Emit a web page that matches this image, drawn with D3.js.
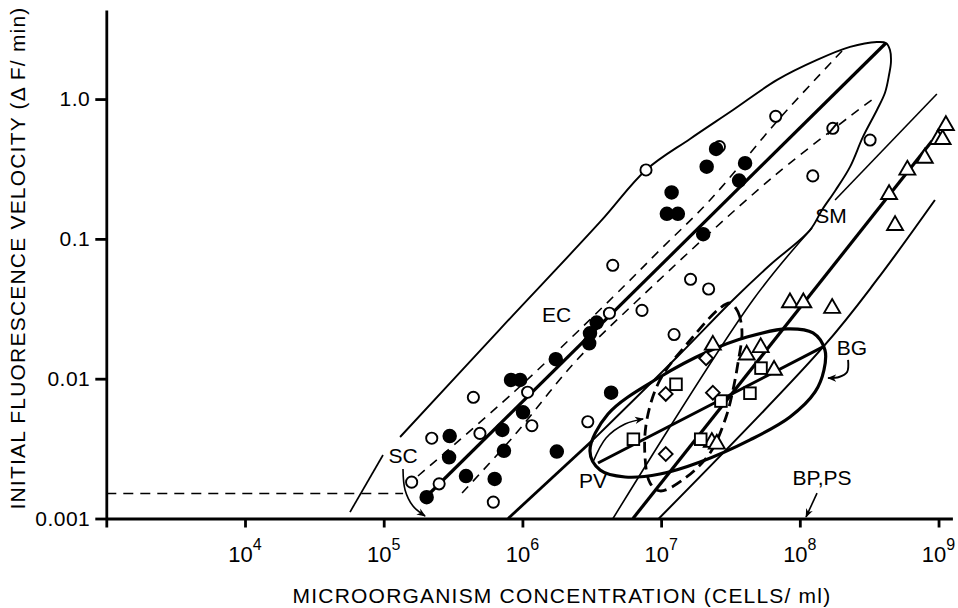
<!DOCTYPE html>
<html><head><meta charset="utf-8">
<script src="https://cdn.jsdelivr.net/npm/d3@7"></script>
<style>
html,body{margin:0;padding:0;background:#fff;}
svg{display:block;font-family:"Liberation Sans",Arial,Helvetica,sans-serif;}
</style></head><body>
<svg id="chart" width="958" height="608"></svg>
<script>
// ---------- axis ticks ----------
const xTicks = [1e3, 1e4, 1e5, 1e6, 1e7, 1e8, 1e9];
const xTickExp = ["", "4", "5", "6", "7", "8", "9"];
const yTicks = [1, 0.1, 0.01, 0.001];
const yTickLabels = ["1.0", "0.1", "0.01", "0.001"];

// ---------- measured points [cells/ml, ΔF/min] ----------
const ecFilled = [[2.04e5,1.42e-3],[2.96e5,2.74e-3],[2.99e5,3.89e-3],[3.92e5,2.01e-3],[6.31e5,1.92e-3],
  [7.16e5,4.30e-3],[7.36e5,3.05e-3],[8.28e5,9.79e-3],[9.62e5,9.79e-3],[1.01e6,5.75e-3],[1.74e6,1.38e-2],
  [1.77e6,3.01e-3],[3.03e6,1.79e-2],[3.07e6,2.11e-2],[3.43e6,2.52e-2],[4.36e6,7.94e-3],[1.10e7,0.151],
  [1.32e7,0.151],[1.19e7,0.215],[2.01e7,0.108],[2.13e7,0.328],[2.49e7,0.440],[3.65e7,0.261],[4.03e7,0.348]];
const ecOpen = [[1.59e5,1.82e-3],[2.22e5,3.75e-3],[2.51e5,1.77e-3],[4.43e5,7.36e-3],[4.94e5,4.06e-3],
  [6.17e5,1.31e-3],[1.09e6,8.0e-3],[1.17e6,4.61e-3],[2.96e6,4.92e-3],[4.24e6,2.94e-2],[4.48e6,6.47e-2],
  [7.28e6,3.08e-2],[7.78e6,0.311],[1.24e7,2.07e-2],[1.63e7,5.14e-2],[2.20e7,4.38e-2],[2.63e7,0.457],
  [6.70e7,0.753],[1.24e8,0.282],[3.21e8,0.509]];
const ecOpenStruck = [[1.73e8,0.618]];
const smTriangles = [[2.36e7,1.74e-2],[4.14e7,1.48e-2],[5.22e7,1.67e-2],[6.52e7,1.15e-2],[2.32e7,3.51e-3],
  [2.52e7,3.41e-3],[8.49e7,3.50e-2],[1.06e8,3.50e-2],[1.71e8,3.19e-2],[4.40e8,0.208],[4.86e8,0.125],
  [5.96e8,0.311],[7.96e8,0.378],[9.89e8,0.515],[1.07e9,0.515],[1.13e9,0.648]];
const bgSquares = [[6.31e6,3.69e-3],[1.28e7,9.12e-3],[1.93e7,3.69e-3],[2.70e7,6.92e-3],[4.37e7,7.87e-3],[5.25e7,1.19e-2]];
const pvDiamonds = [[1.08e7,7.78e-3],[1.08e7,2.89e-3],[2.11e7,1.40e-2],[2.36e7,7.94e-3]];

// ---------- drawn curves, as [log10 cells/ml, log10 ΔF/min] ----------
const ecEnvelopeLow = [[4.757,-2.954],[4.995,-2.546]];
const ecEnvelope = [[5.118,-2.417],[5.839,-1.645],[6.560,-0.879],[6.891,-0.507],[7.208,-0.285],[7.518,-0.078],
  [7.836,0.137],[8.124,0.280],[8.362,0.373],[8.556,0.408],[8.621,0.401],[8.650,0.351],[8.657,0.265],
  [8.643,0.172],[8.614,0.045],[8.556,-0.078],[8.455,-0.271],[8.362,-0.485],[8.254,-0.657],[8.160,-0.793],
  [8.073,-0.937],[7.785,-1.187],[7.518,-1.437],[7.115,-1.845],[6.509,-2.438]];
const ecEnvelopeFoot = [[6.509,-2.438],[5.897,-3.0]];
const ecFit = [[5.319,-2.832],[8.621,0.401]];
const ecBandUpper = [[5.247,-2.696],[5.947,-2.088],[6.653,-1.416],[6.992,-1.079],[7.353,-0.722],[7.857,-0.135],[8.311,0.351]];
const ecBandLower = [[5.565,-2.818],[5.932,-2.417],[6.379,-1.881],[6.848,-1.423],[7.807,-0.557],[8.528,0.001]];
const smBoundUpperA = [[8.988,0.036],[8.254,-0.722]];
const smBoundUpperB = [[8.088,-0.922],[7.662,-1.437],[6.653,-3.0]];
const smBoundLower = [[8.974,-0.722],[8.555,-1.294],[8.170,-1.771],[6.984,-3.0]];
const smFit = [[8.953,-0.300],[6.797,-3.0]];
const bgEllipse = [[6.487,-2.517],[6.617,-2.253],[6.992,-1.988],[7.331,-1.809],[7.619,-1.702],[7.908,-1.644],
  [8.095,-1.673],[8.181,-1.795],[8.174,-1.938],[8.110,-2.095],[7.929,-2.274],[7.641,-2.438],[7.281,-2.596],
  [6.992,-2.682],[6.740,-2.703],[6.560,-2.653]];
const bgFit = [[6.545,-2.603],[8.167,-1.773]];
const pvEllipse = [[7.497,-1.459],[7.554,-1.523],[7.583,-1.666],[7.554,-1.888],[7.518,-2.081],[7.468,-2.274],
  [7.353,-2.531],[7.165,-2.717],[6.992,-2.803],[6.920,-2.746],[6.883,-2.546],[6.897,-2.295],[6.992,-2.009],
  [7.223,-1.709],[7.425,-1.494]];
const scArrow = [[5.139,-2.646],[5.154,-2.796],[5.211,-2.911],[5.298,-2.982]];
const pvArrow = [[6.509,-2.596],[6.603,-2.424],[6.740,-2.324],[6.870,-2.288]];
const bgArrow = [[8.348,-1.866],[8.341,-1.952],[8.283,-1.988],[8.204,-1.995]];
const bpArrow = [[8.124,-2.818],[8.045,-2.989]];
const thresholdLine = [[1e3,1.51e-3],[1.38e5,1.51e-3]];

// ---------- labels [text, log10 x, log10 y] ----------
const groupLabels = [["EC",6.247,-1.544],["SC",5.139,-2.546],["SM",8.225,-0.836],
  ["BG",8.376,-1.780],["PV",6.509,-2.725],["BP,PS",8.160,-2.710]];

// ---------- scales ----------
const svg = d3.select("#chart");
const x = d3.scaleLog().domain([1e3, 10 ** 9.1]).range([106.3, 952.4]);
const y = d3.scaleLog().domain([1e-3, 10 ** 0.637]).range([518.5, 10]);
const E = d => [x(10 ** d[0]), y(10 ** d[1])];

svg.append("defs").append("marker")
  .attr("id", "head").attr("viewBox", "0 0 10 10").attr("refX", 9).attr("refY", 5)
  .attr("markerWidth", 9).attr("markerHeight", 9).attr("markerUnits", "userSpaceOnUse")
  .attr("orient", "auto")
  .append("path").attr("d", "M0,1 L10,5 L0,9 L3,5 Z").attr("fill", "#000");

const gLines = svg.append("g").attr("fill", "none").attr("stroke", "#000");
const smooth = d3.line().curve(d3.curveCatmullRom.alpha(0.5));
const straight = d3.line();
const closed = d3.line().curve(d3.curveCatmullRomClosed.alpha(0.5));

function curve(pts, gen, width, dash) {
  const p = gLines.append("path").attr("d", gen(pts.map(E))).attr("stroke-width", width);
  if (dash) p.attr("stroke-dasharray", dash);
  return p;
}

curve(ecEnvelopeLow, straight, 1.7);
curve(ecEnvelope, smooth, 1.9);
curve(ecEnvelopeFoot, straight, 2.8);
curve(ecFit, straight, 3.2);
curve(ecBandUpper, smooth, 1.6, "9,7");
curve(ecBandLower, smooth, 1.6, "9,7");
curve(smBoundUpperA, straight, 1.6);
curve(smBoundUpperB, smooth, 1.6);
curve(smBoundLower, smooth, 2);
curve(smFit, straight, 3.2);
curve(bgEllipse, closed, 3.2);
curve(bgFit, straight, 3);
curve(pvEllipse, closed, 2.8, "11,6");
curve(scArrow, smooth, 1.6).attr("marker-end", "url(#head)");
curve(pvArrow, smooth, 1.6).attr("marker-end", "url(#head)");
curve(bgArrow, smooth, 1.9).attr("marker-end", "url(#head)");
curve(bpArrow, straight, 1.6).attr("marker-end", "url(#head)");

gLines.append("path")
  .attr("d", straight(thresholdLine.map(d => [x(d[0]), y(d[1])])))
  .attr("stroke-width", 1.6).attr("stroke-dasharray", "10,7");

// ---------- axes ----------
const yAxis = svg.append("g").attr("transform", `translate(${x(1e3)},0)`)
  .call(d3.axisLeft(y).tickValues(yTicks).tickFormat((d, i) => yTickLabels[i]).tickSize(11).tickSizeOuter(0).tickPadding(5));
yAxis.select(".domain").attr("stroke-width", 2.8);
yAxis.selectAll(".tick line").attr("stroke-width", 2.8);
yAxis.selectAll(".tick text").attr("font-size", 21).attr("fill", "#000")
  .attr("font-family", "Liberation Sans, Arial, sans-serif").attr("letter-spacing", 0.5);

const xAxis = svg.append("g").attr("transform", `translate(0,${y(1e-3)})`)
  .call(d3.axisBottom(x).tickValues(xTicks).tickFormat("").tickSize(9).tickSizeOuter(0));
xAxis.select(".domain").attr("stroke-width", 3.2);
xAxis.selectAll(".tick line").attr("stroke-width", 2.8);

const xl = svg.append("g").attr("font-size", 22).attr("text-anchor", "middle");
xTicks.forEach((t, i) => {
  if (!xTickExp[i]) return;
  const tx = xl.append("text").attr("x", x(t)).attr("y", 562);
  tx.append("tspan").text("10");
  tx.append("tspan").attr("dy", -12).attr("font-size", 16).text(xTickExp[i]);
});

svg.append("text").attr("x", 562).attr("y", 603).attr("text-anchor", "middle")
  .attr("font-size", 21).attr("letter-spacing", 1.2).text("MICROORGANISM CONCENTRATION (CELLS/ ml)");
svg.append("text").attr("transform", "translate(25,258) rotate(-90)").attr("text-anchor", "middle")
  .attr("font-size", 21).attr("letter-spacing", 1.2).text("INITIAL FLUORESCENCE VELOCITY (\u0394 F/ min)");

// ---------- group labels ----------
svg.append("g").attr("font-size", 21).attr("text-anchor", "middle").attr("dominant-baseline", "central")
  .selectAll("text").data(groupLabels).join("text")
  .attr("x", d => x(10 ** d[1])).attr("y", d => y(10 ** d[2])).text(d => d[0]);

// ---------- markers ----------
const gPts = svg.append("g").attr("stroke", "#000").attr("stroke-width", 1.9);
gPts.selectAll(".o").data(ecOpen.concat(ecOpenStruck)).join("circle")
  .attr("cx", d => x(d[0])).attr("cy", d => y(d[1])).attr("r", 5.6).attr("fill", "#fff");
gPts.selectAll(".s").data(ecOpenStruck).join("line")
  .attr("x1", d => x(d[0]) - 5).attr("y1", d => y(d[1]) + 6)
  .attr("x2", d => x(d[0]) + 5).attr("y2", d => y(d[1]) - 6);
gPts.selectAll(".f").data(ecFilled).join("circle")
  .attr("cx", d => x(d[0])).attr("cy", d => y(d[1])).attr("r", 6.3).attr("fill", "#000");
const tri = d3.symbol().type(d3.symbolTriangle).size(110);
gPts.selectAll(".t").data(smTriangles).join("path")
  .attr("d", tri).attr("transform", d => `translate(${x(d[0])},${y(d[1])})`).attr("fill", "#fff");
gPts.selectAll(".q").data(bgSquares).join("rect")
  .attr("x", d => x(d[0]) - 5.8).attr("y", d => y(d[1]) - 5.8).attr("width", 11.6).attr("height", 11.6).attr("fill", "#fff");
gPts.selectAll(".d").data(pvDiamonds).join("path")
  .attr("d", d3.symbol().type(d3.symbolDiamond2).size(120))
  .attr("transform", d => `translate(${x(d[0])},${y(d[1])})`).attr("fill", "#fff");
</script>
</body></html>
